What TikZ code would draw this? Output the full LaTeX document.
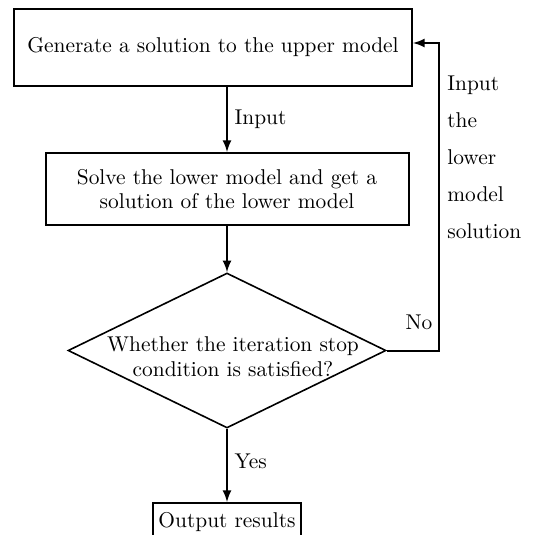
\documentclass[tikz,border=0pt]{standalone}
\usepackage{amsmath,amssymb}
\usepackage{tikz}
\usetikzlibrary{shapes.geometric, positioning, calc}

\begin{document}
\begin{tikzpicture}[x=0.5pt, y=-0.5pt, >=latex,
    every node/.style={font={\fontsize{10.7}{12.2}\selectfont}},
    procbox/.style={draw, line width=1pt, align=center, inner sep=0pt},
    decision/.style={draw, diamond, line width=0.8pt, inner sep=0pt, minimum width=159pt, minimum height=77.5pt},
    flow/.style={->, line width=1pt}]
    \useasboundingbox (0,0) rectangle (535,535);

    \node[procbox, minimum width=199pt, minimum height=38.5pt] (gen) at (213,47.5) {Generate a solution to the upper model};
    \node[procbox, minimum width=181.5pt, minimum height=36pt] (solve) at (227,189) {Solve the lower model and get a\\solution of the lower model};
    \node[decision] (check) at (227,350.5) {};
    \node[align=center] (checktext) at ($(check.center)+(6,6)$) {Whether the iteration stop\\condition is satisfied?};
    \node[procbox, minimum width=74pt, minimum height=19pt] (out) at (227,522) {Output results};

    \draw[flow] (gen.south -| solve.north) --node[right]{Input} (solve.north);
    \draw[flow] (solve.south) -- (check.north);
    \draw[flow] (check.south) --node[right, pos=0.45]{Yes} (out.north);

    % feedback branch
    \coordinate (back) at (439,43);
    \draw[flow] (check.east) -| (back) -- (gen.east |- back);
    \node (no) at (419,322) {No};
    \node[anchor=west, inner sep=0pt, align=left, font={\fontsize{10.7}{18.5}\selectfont}] (backtext) at (447,157.5) {Input\\the\\lower\\model\\solution};

\end{tikzpicture}
\end{document}
